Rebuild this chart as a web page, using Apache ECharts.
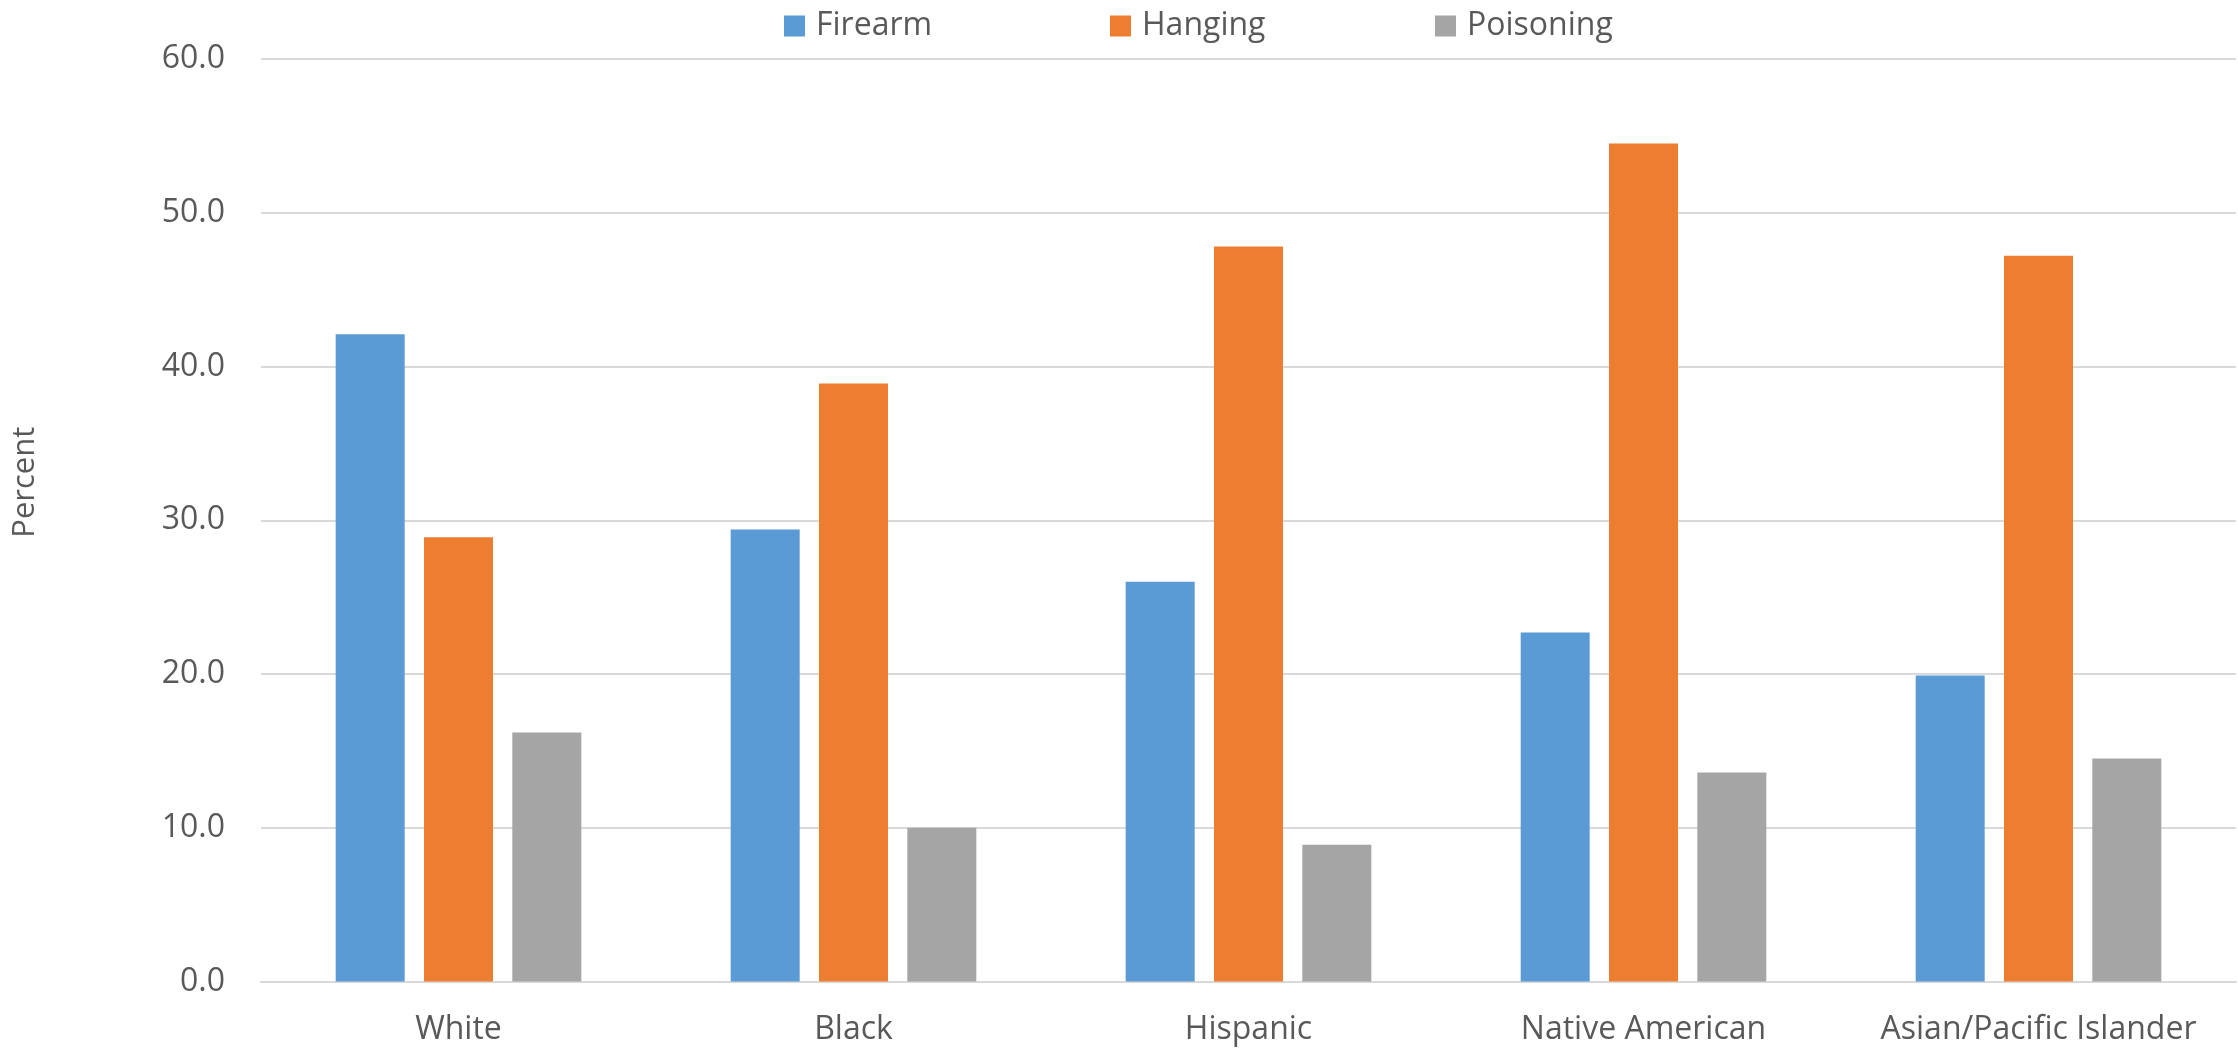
<!DOCTYPE html>
<html>
<head>
<meta charset="utf-8">
<title>Suicide method by race/ethnicity</title>
<script src="https://cdn.jsdelivr.net/npm/echarts@6/dist/echarts.min.js"></script>
<style>
  html, body { margin: 0; padding: 0; background: #ffffff; }
  #chart { width: 2238px; height: 1049px; }
</style>
</head>
<body>
<div id="chart"></div>
<script>
// Percent of suicides by method, for each race/ethnicity group
const categories = ['White', 'Black', 'Hispanic', 'Native American', 'Asian/Pacific Islander'];
const methods = ['Firearm', 'Hanging', 'Poisoning'];
const firearm   = [42.1, 29.4, 26.0, 22.7, 19.9];
const hanging   = [28.9, 38.9, 47.8, 54.5, 47.2];
const poisoning = [16.2, 10.0, 8.9, 13.6, 14.5];
const yTicks = { min: 0, max: 60, interval: 10 };

const colors = ['#5B9BD5', '#ED7D31', '#A5A5A5'];
const textColor = '#595959';
const fontFamily = '"Open Sans", "Noto Sans", sans-serif';

const chart = echarts.init(document.getElementById('chart'));

const barStyle = (name, data, color) => ({
  name: name,
  type: 'bar',
  data: data,
  barWidth: 69,
  barGap: '28%',
  itemStyle: { color: color },
  emphasis: { disabled: true }
});

// One legend entry per method, evenly spaced across the top
const legendLefts = [779, 1105, 1430];
const legends = methods.map((m, i) => ({
  top: 5,
  left: legendLefts[i],
  itemWidth: 21,
  itemHeight: 21,
  icon: 'rect',
  textStyle: { fontSize: 32, color: textColor, fontFamily: fontFamily, padding: [0, 0, 0, 6] },
  data: [m]
}));

chart.setOption({
  animation: false,
  textStyle: { fontFamily: fontFamily, color: textColor },
  grid: { left: 261, right: 2, top: 59, bottom: 67.5, containLabel: false },
  legend: legends,
  xAxis: {
    type: 'category',
    data: categories,
    axisLine: { lineStyle: { color: '#d9d9d9', width: 2 } },
    axisTick: { show: false },
    axisLabel: { interval: 0, fontSize: 32, color: textColor, margin: 32, fontFamily: fontFamily }
  },
  yAxis: {
    type: 'value',
    min: yTicks.min,
    max: yTicks.max,
    interval: yTicks.interval,
    name: 'Percent',
    nameLocation: 'middle',
    nameGap: 220,
    nameTextStyle: { fontSize: 31, color: textColor, fontFamily: fontFamily, padding: [0, 0, 0, 76] },
    axisLine: { show: false },
    axisTick: { show: false },
    axisLabel: {
      fontSize: 32,
      color: textColor,
      margin: 36,
      fontFamily: fontFamily,
      formatter: v => v.toFixed(1)
    },
    splitLine: { lineStyle: { color: '#d9d9d9', width: 2 } }
  },
  series: [
    barStyle(methods[0], firearm, colors[0]),
    barStyle(methods[1], hanging, colors[1]),
    barStyle(methods[2], poisoning, colors[2])
  ]
});
</script>
</body>
</html>
